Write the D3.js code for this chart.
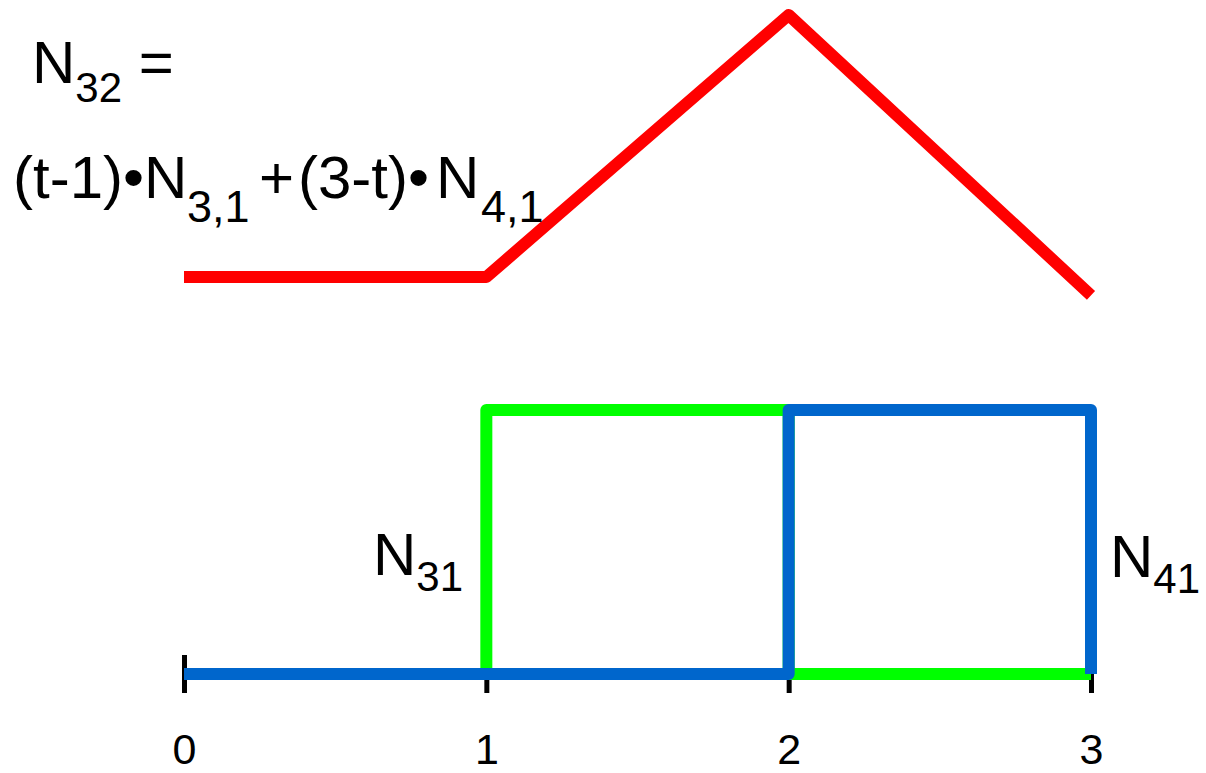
<!DOCTYPE html>
<html>

<head>
  <meta charset='utf-8'>
  <script src="https://cdn.jsdelivr.net/npm/d3@7"></script>
  <style type="text/css">
    body {
      margin: 0;
      background: #fff;
    }

    text {
      font-family: "Liberation Sans", Arial, sans-serif;
      fill: #000;
    }

    .line {
      fill: none;
      stroke-width: 12;
      stroke-linejoin: round;
    }
  </style>
</head>

<body>
  <script>
    let w = 1206
    let h = 773

    // knots on the t axis
    let ticks = [0, 1, 2, 3]

    // N31: step function, value holds until next knot
    let n31T = [0, 1, 2, 3]
    let n31V = [0, 1, 0, 0]

    // N41
    let n41T = [0, 2, 3]
    let n41V = [0, 1, 0]

    // N32 (red), as drawn in the picture
    let n32T = [0, 1, 2, 3]
    let n32V = [0, 0, 1, -0.07]

    let xScale = d3.scaleLinear()
      .domain([0, 3])
      .range([184, 1091])

    // lower panel (the two boxes)
    let yBox = d3.scaleLinear()
      .domain([0, 1])
      .range([674, 410])

    // upper panel (red)
    let yTop = d3.scaleLinear()
      .domain([0, 1])
      .range([277, 15])

    let svg = d3.select('body')
      .append('svg')
      .attr('width', w)
      .attr('height', h)

    let zip = (ts, vs) => ts.map((t, i) => ({ t: t, v: vs[i] }))

    //axis: only ticks and labels
    let xAxis = d3.axisBottom(xScale)
      .tickValues(ticks)
      .tickFormat(d3.format('d'))
      .tickSizeInner(38)
      .tickSizeOuter(0)

    let ax = svg.append('g')
      .attr('transform', 'translate(0,655)')
      .call(xAxis)
    ax.select('.domain').remove()
    ax.selectAll('.tick line')
      .attr('stroke', '#000')
      .attr('stroke-width', 5)
    ax.selectAll('.tick text')
      .attr('y', 109)
      .attr('dy', null)
      .style('font-size', '43px')
      .style('font-family', '"Liberation Sans", Arial, sans-serif')
      .attr('fill', '#000')

    let stepLine = d3.line()
      .x(d => xScale(d.t))
      .y(d => yBox(d.v))
      .curve(d3.curveStepAfter)

    svg.append('path')
      .datum(zip(n31T, n31V))
      .attr('class', 'line')
      .attr('stroke', '#00ff00')
      .attr('d', stepLine)

    svg.append('path')
      .datum(zip(n41T, n41V))
      .attr('class', 'line')
      .attr('stroke', '#0066cc')
      .attr('d', stepLine)

    let redLine = d3.line()
      .x(d => xScale(d.t))
      .y(d => yTop(d.v))

    svg.append('path')
      .datum(zip(n32T, n32V))
      .attr('class', 'line')
      .attr('stroke', '#ff0000')
      .attr('d', redLine)

    // labels with subscripts; each part may carry its own x and size
    function label(x, y, parts) {
      let t = svg.append('text')
        .attr('x', x)
        .attr('y', y)
        .style('font-size', '60px')
      parts.forEach(p => {
        let s = t.append('tspan')
          .attr('dy', p.dy || 0)
          .style('font-size', (p.fs || (p.sub ? 42 : 60)) + 'px')
          .text(p.s)
        if (p.x != null) s.attr('x', p.x)
      })
      return t
    }

    label(32, 83, [
      { s: 'N' }, { s: '32', sub: true, dy: 19 }, { s: '\u00a0=', dy: -19 }
    ])

    label(13, 198, [
      { s: '(t-1)\u2022N' }, { s: '3,1', sub: true, fs: 45, dy: 24, x: 187 },
      { s: '+', dy: -24, x: 259 }, { s: '(3-t)\u2022', x: 298 },
      { s: 'N', x: 436 },
      { s: '4,1', sub: true, fs: 45, dy: 24, x: 481 }
    ])

    label(373, 575, [
      { s: 'N' }, { s: '31', sub: true, dy: 16 }
    ])

    label(1110, 577, [
      { s: 'N' }, { s: '41', sub: true, dy: 16 }
    ])
  </script>
</body>

</html>
